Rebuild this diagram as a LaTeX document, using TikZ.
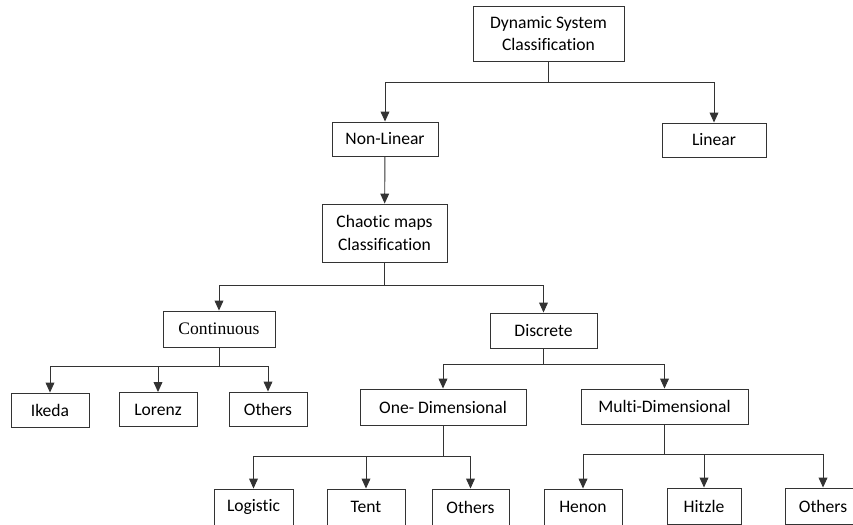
\documentclass[tikz,border=0pt]{standalone}
\usepackage{fontspec}
\setmainfont{Carlito}[Ligatures=NoCommon]
\newfontfamily\timesfont{Liberation Serif}
\usepackage{tikz}
\usetikzlibrary{arrows.meta}
\tikzstyle{block} = [rectangle, draw=black!80, line width=0.8pt, minimum height=1.02cm, inner sep=2pt, align=center, font=\fontsize{15}{19.6}\selectfont]
\tikzstyle{arrow} = [draw=black!80, line width=0.8pt, -{Triangle[width=7.5pt,length=8.5pt]}]

\begin{document}
\begin{tikzpicture}[x=0.03cm, y=-0.03cm]
	\clip (0,0) rectangle (853,524);

	\node (dyn) [block, minimum width=4.53cm, minimum height=1.65cm] at (548.5,33.5) {Dynamic System\\Classification};
	\node (nonlin) [block, minimum width=3.18cm] at (385,139) {Non-Linear};
	\node (linear) [block, minimum width=3.12cm] at (714,140) {Linear};
	\node (chaotic) [block, minimum width=3.75cm, minimum height=1.74cm] at (384.5,233) {Chaotic maps\\Classification};

	\node (cont) [block, minimum width=3.36cm, minimum height=1.08cm, font=\fontsize{15}{19.6}\timesfont] at (219,329) {Continuous};
	\node (disc) [block, minimum width=3.21cm, minimum height=1.05cm] at (543.5,330.5) {Discrete};

	\node (ikeda) [block, minimum width=2.34cm] at (50,410) {Ikeda};
	\node (lorenz) [block, minimum width=2.34cm] at (158,409.5) {Lorenz};
	\node (othcont) [block, minimum width=2.34cm] at (268,409) {Others};
	\node (onedim) [block, minimum width=4.98cm, minimum height=1.08cm] at (443,407) {One- Dimensional};
	\node (multidim) [block, minimum width=5.01cm, minimum height=1.05cm] at (664.5,406.5) {Multi-Dimensional};

	\node (logistic) [block, minimum width=2.37cm, minimum height=1.08cm] at (253.5,507) {Logistic};
	\node (tent) [block, minimum width=2.34cm, minimum height=1.08cm] at (366,507) {Tent};
	\node (othone) [block, minimum width=2.31cm, minimum height=1.08cm] at (470.5,507) {Others};
	\node (henon) [block, minimum width=2.34cm, minimum height=1.08cm] at (583,507) {Henon};
	\node (hitzle) [block, minimum width=2.22cm, minimum height=1.08cm] at (704,506) {Hitzle};
	\node (othmulti) [block, minimum width=2.28cm, minimum height=1.08cm] at (823,506) {Others};

	\draw [arrow] (dyn.south) -- ++(0,21) -| (nonlin);
	\draw [arrow] (dyn.south) -- ++(0,21) -| (linear);
	\draw [arrow] (nonlin) -- (chaotic);

	\draw [arrow] (chaotic.south) -- ++(0,23) -| (cont);
	\draw [arrow] (chaotic.south) -- ++(0,23) -| (disc);

	\draw [arrow] (cont.south) -- ++(0,19) -| (ikeda);
	\draw [arrow] (cont.south) -- ++(0,19) -| (lorenz);
	\draw [arrow] (cont.south) -- ++(0,19) -| (othcont);

	\draw [arrow] (disc.south) -- ++(0,16) -| (onedim);
	\draw [arrow] (disc.south) -- ++(0,16) -| (multidim);

	\draw [arrow] (onedim.south) -- ++(0,31) -| (logistic);
	\draw [arrow] (onedim.south) -- ++(0,31) -| (tent);
	\draw [arrow] (onedim.south) -- ++(0,31) -| (othone);

	\draw [arrow] (multidim.south) -- ++(0,30) -| (henon);
	\draw [arrow] (multidim.south) -- ++(0,30) -| (hitzle);
	\draw [arrow] (multidim.south) -- ++(0,30) -| (othmulti);

\end{tikzpicture}
\end{document}
